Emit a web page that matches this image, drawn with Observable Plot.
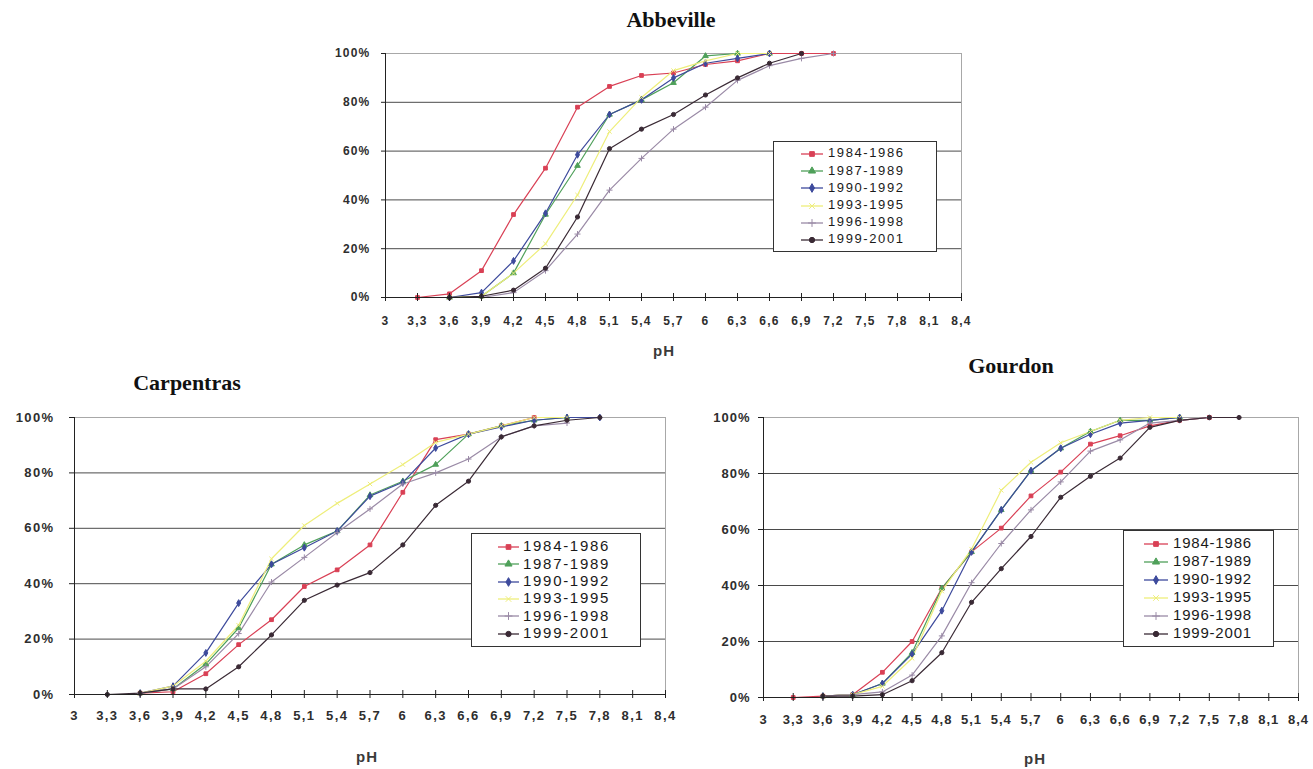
<!DOCTYPE html>
<html><head><meta charset="utf-8">
<script src="https://cdn.jsdelivr.net/npm/d3@7"></script>
<script src="https://cdn.jsdelivr.net/npm/@observablehq/plot@0.6"></script>
<style>
body{margin:0;background:#fff;width:1313px;height:769px;overflow:hidden;position:relative;font-family:'Liberation Sans',Arial,sans-serif}
.box{position:absolute}
.title{position:absolute;font-family:'Liberation Serif','Times New Roman',serif;font-weight:bold;font-size:22px;line-height:24px;transform:translateX(-50%);white-space:nowrap;color:#111}
.xlab{position:absolute;font-size:15px;line-height:16px;font-weight:bold;color:#3a3a3a;transform:translateX(-50%);letter-spacing:1px}
.legend{position:absolute;border:1px solid #333;background:#fff;box-sizing:border-box}
.legend .row{position:absolute;white-space:nowrap;color:#1a1a1a}
</style></head>
<body>
<script>
// ---- data ----
const periods = ["1984-1986","1987-1989","1990-1992","1993-1995","1996-1998","1999-2001"];
const periodColors = ["#d94055","#4fa05a","#3d4a9c","#eeee7a","#9a8aa6","#3a2a35"];
const periodSymbols = ["square","triangle","diamond","times","plus","circle"];
const pHValues = [3.3,3.6,3.9,4.2,4.5,4.8,5.1,5.4,5.7,6,6.3,6.6,6.9,7.2,7.5,7.8];
const pHTicks = [3,3.3,3.6,3.9,4.2,4.5,4.8,5.1,5.4,5.7,6,6.3,6.6,6.9,7.2,7.5,7.8,8.1,8.4];
const pctTicks = [0,20,40,60,80,100];
const gridPct = [20,40,60,80];

// Abbeville
const abbeville1984 = [0,1.5,11,34,53,78,86.5,91,92,95.5,97,100,100,100];
const abbeville1987 = [null,0,0.5,10,34,54,75,81,88,99,100,100];
const abbeville1990 = [null,0,2,15,34.5,58.5,75,81,90,96,98,100];
const abbeville1993 = [null,0,0.5,10,22,42,68,82,93,97,100,100];
const abbeville1996 = [null,0,0,2,11,26,44,57,69,78,89,95,98,100];
const abbeville1999 = [null,0,0.5,3,12,33,61,69,75,83,90,96,100];
// Carpentras
const carpentras1984 = [null,0.5,1,7.5,18,27,39,45,54,73,92,94,97,100];
const carpentras1987 = [null,0.5,2,11,24,47,54,59,72,77,83,94,97,99,100];
const carpentras1990 = [null,0.5,3,15,33,47,53,59,71.6,76.6,89,94,96.6,99,100,100];
const carpentras1993 = [null,0.5,3,12,25,49,61,69,76,83,91,94,97,100,100];
const carpentras1996 = [null,0.5,2,10,22,40.6,49.5,58.5,67,76,80,85,93,97,98];
const carpentras1999 = [0,0.5,2,2,10,21.5,34,39.5,44,54,68.3,77,93,97,99,100];
// Gourdon
const gourdon1984 = [0,0.5,1,9,20,39,52,60.5,72,80.5,90.5,93.5,97,99,100];
const gourdon1987 = [null,0.5,1,5,16,39,52,67,81,89,95,99,99,100];
const gourdon1990 = [null,0.5,1,5,15.5,31,52,67,81,89,94,98,99,100];
const gourdon1993 = [null,0.5,1,4,14,38,53,74,84,91,95,99,100,100];
const gourdon1996 = [null,0.5,1,2,8,22,41,55,67,77,88,92,98,99,100];
const gourdon1999 = [null,0.5,0.5,1,6,16,34,46,57.5,71.5,79,85.5,96.5,99,100,100];

function toRows(seriesList){
  const rows = [];
  seriesList.forEach((arr,i)=>arr.forEach((v,j)=>{ if(v!=null) rows.push({pH:pHValues[j],pct:v,period:periods[i]}); }));
  return rows;
}
const fmtPH = d => String(d).replace(".", ",");

function chart(o){
  const data = toRows(o.series);
  const svg = Plot.plot({
    width:o.width, height:o.height,
    marginTop:o.mt, marginRight:o.mr, marginBottom:o.mb, marginLeft:o.ml,
    style:{fontFamily:"'Liberation Sans', Arial, sans-serif", fontSize:o.fs+"px", fontWeight:"bold", letterSpacing:o.ls+"px", color:"#2e2e2e", background:"transparent", overflow:"visible"},
    x:{domain:[3,8.4]},
    y:{domain:[0,100]},
    color:{type:"ordinal", domain:periods, range:periodColors},
    symbol:{domain:periods, range:periodSymbols},
    marks:[
      Plot.ruleY(gridPct,{stroke:"#4a4a4a", strokeWidth:1}),
      Plot.ruleY([100],{stroke:"#a8a8a8"}),
      Plot.ruleX([8.4],{stroke:"#a8a8a8"}),
      Plot.line(data,{x:"pH", y:"pct", z:"period", stroke:"period", strokeWidth:1.2}),
      Plot.dot(data,{x:"pH", y:"pct", symbol:"period", fill:"period", stroke:"period", strokeWidth:1, r:2.1}),
      Plot.ruleX([3],{stroke:"#222"}),
      Plot.ruleY([0],{stroke:"#222"}),
      Plot.axisY({ticks:pctTicks, tickSize:o.yts, tickPadding:o.ytp, tickFormat:d=>d+"%", label:null, stroke:"#222"}),
      Plot.axisX({ticks:pHTicks, tickSize:8, dy:-4, tickFormat:()=>"", label:null, stroke:"#222"}),
      Plot.axisX({ticks:pHTicks, tickSize:0, tickPadding:o.xtp, tickFormat:fmtPH, label:null})
    ]
  });
  const div = document.createElement("div");
  div.className = "box";
  div.style.left = o.left+"px"; div.style.top = o.top+"px";
  div.appendChild(svg);
  document.body.appendChild(div);
}

function legend(o){
  const lg = document.createElement("div");
  lg.className = "legend";
  Object.assign(lg.style,{left:o.left+"px", top:o.top+"px", width:o.w+"px", height:o.h+"px"});
  const symMap = {square:d3.symbolSquare, triangle:d3.symbolTriangle, diamond:d3.symbolDiamond, times:d3.symbolTimes, plus:d3.symbolPlus, circle:d3.symbolCircle};
  periods.forEach((p,i)=>{
    const cy = o.row0 + i*o.step;
    const s = d3.create("svg").attr("width",o.symW).attr("height",10)
      .style("position","absolute").style("left",(o.symX-o.left)+"px").style("top",(cy-o.top-5)+"px");
    s.append("line").attr("x1",0).attr("x2",o.symW).attr("y1",5).attr("y2",5).attr("stroke",periodColors[i]).attr("stroke-width",1.3);
    s.append("path").attr("transform",`translate(${o.symW/2},5)`).attr("d",d3.symbol(symMap[periodSymbols[i]],22)())
      .attr("fill",periodColors[i]).attr("stroke",periodColors[i]).attr("stroke-width",1);
    lg.appendChild(s.node());
    const t = document.createElement("div");
    t.className = "row";
    t.textContent = p;
    Object.assign(t.style,{left:(o.textX-o.left)+"px", top:(cy-o.top-o.fs*0.58)+"px", fontSize:o.fs+"px", lineHeight:o.fs+"px", letterSpacing:o.ls+"px"});
    lg.appendChild(t);
  });
  document.body.appendChild(lg);
}

function label(cls, text, x, y){
  const d = document.createElement("div");
  d.className = cls; d.textContent = text;
  d.style.left = x+"px"; d.style.top = y+"px";
  document.body.appendChild(d);
}

// Abbeville
chart({series:[abbeville1984,abbeville1987,abbeville1990,abbeville1993,abbeville1996,abbeville1999],
  left:290, top:35, width:690, height:320, mt:18, mr:19, mb:58, ml:95, yts:4, ytp:11, xtp:19, fs:12, ls:1.2});
legend({left:773, top:141, w:164, h:111, row0:153, step:17.2, symX:800, symW:22, textX:827, fs:13, ls:1.6});
label("title","Abbeville",671,8);
label("xlab","pH",664,343);

// Carpentras
chart({series:[carpentras1984,carpentras1987,carpentras1990,carpentras1993,carpentras1996,carpentras1999],
  left:0, top:400, width:690, height:330, mt:17, mr:25, mb:36, ml:74, yts:5, ytp:15, xtp:16, fs:13, ls:1.4});
legend({left:471, top:533, w:170, h:114, row0:546, step:17.3, symX:497, symW:21, textX:522, fs:15, ls:1.7});
label("title","Carpentras",187,371);
label("xlab","pH",367,749);

// Gourdon
chart({series:[gourdon1984,gourdon1987,gourdon1990,gourdon1993,gourdon1996,gourdon1999],
  left:690, top:400, width:623, height:330, mt:17, mr:15, mb:33, ml:73, yts:5, ytp:8, xtp:17, fs:13, ls:1.0});
legend({left:1123, top:530, w:151, h:117, row0:543, step:18, symX:1143, symW:24, textX:1172, fs:15, ls:0.8});
label("title","Gourdon",1011,354);
label("xlab","pH",1035,751);
</script>
</body></html>
